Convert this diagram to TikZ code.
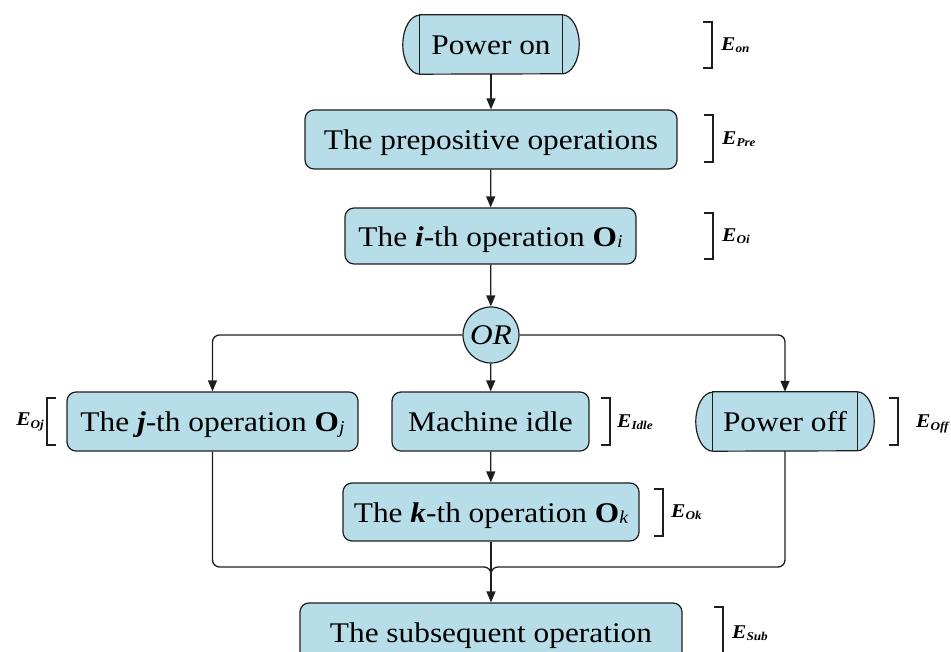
\documentclass[tikz,border=0pt]{standalone}
\usepackage{fontspec}
\setmainfont{Liberation Serif}[FakeStretch=1.1]
\usetikzlibrary{arrows.meta,backgrounds,calc}
\definecolor{boxfill}{RGB}{183,221,232}
\definecolor{edge}{RGB}{30,30,30}
\newcommand{\subsc}[1]{\raisebox{-1.5pt}{\fontsize{18}{18}\selectfont\itshape #1}}
\newcommand{\Elab}[1]{\textbf{\textit{E}}\raisebox{-2.5pt}{\fontsize{12}{12}\selectfont\bfseries\itshape #1}}
\tikzset{
  mainfont/.style={font=\fontsize{28.5}{30}\selectfont},
  box/.style={draw=edge, fill=boxfill, rounded corners=9pt, line width=1.2pt,
    inner sep=0pt, mainfont, text height=21pt, text depth=0pt},
  term/.style={inner sep=0pt, mainfont, text height=21pt, text depth=0pt},
  orbox/.style={circle, draw=edge, fill=boxfill, line width=1.2pt, inner sep=0pt,
    minimum size=56pt, mainfont, text height=20pt, text depth=0pt},
  conn/.style={draw=edge, line width=1.3pt},
  arr/.style={conn, -{Triangle[length=11pt,width=9pt]}},
  brk/.style={draw=edge, line width=1.3pt},
  elabel/.style={font=\fontsize{19.5}{20}\selectfont, inner sep=0pt, anchor=west},
}
\begin{document}
\begin{tikzpicture}[x=1pt,y=1pt]
\clip[use as bounding box] (0,0) rectangle (951,652);

% nodes
\node[term, minimum width=142pt, minimum height=59pt] (pon) at (491,607.5) {Power on};
\node[box, minimum width=372pt, minimum height=59pt] (pre) at (491,512.5) {The prepositive operations};
\node[box, minimum width=291pt, minimum height=56pt] (iop) at (490.5,416) {The \textbf{\textit{i}}-th operation \textbf{O}\subsc{i}};
\node[orbox] (or) at (491,317) {\itshape OR};
\node[box, minimum width=291pt, minimum height=59pt] (jop) at (212.5,230.5) {The \textbf{\textit{j}}-th operation \textbf{O}\subsc{j}};
\node[box, minimum width=197pt, minimum height=59pt] (idle) at (490.5,230.5) {Machine idle};
\node[term, minimum width=144pt, minimum height=59pt] (poff) at (785,230.5) {Power off};
\node[box, minimum width=296pt, minimum height=58pt] (kop) at (491,140) {The \textbf{\textit{k}}-th operation \textbf{O}\subsc{k}};
\node[box, minimum width=382pt, minimum height=58pt] (sub) at (491,20) {The subsequent operation};

% terminal shapes
\begin{scope}[on background layer]
\foreach \n in {pon,poff}{
  \draw[conn, line width=1.2pt, fill=boxfill] (\n.north west) -- (\n.north east)
    arc[start angle=90, end angle=-90, x radius=17pt, y radius=29.5pt]
    -- (\n.south west)
    arc[start angle=270, end angle=90, x radius=17pt, y radius=29.5pt] -- cycle;
  \draw[conn, line width=1.2pt] (\n.north west) -- (\n.south west) (\n.north east) -- (\n.south east);
}
\end{scope}

% connectors
\draw[arr] (pon) -- (pre);
\draw[arr] (pre) -- (iop);
\draw[arr] (iop) -- (or);
\draw[arr] (or) -- (idle);
\draw[arr, rounded corners=7pt] (or.west) -| (jop.north);
\draw[arr, rounded corners=7pt] (or.east) -| (poff.north);
\draw[arr] (idle) -- (kop);
\coordinate (mrg) at (491,85);
\coordinate (mrgb) at (491,70);
\draw[conn, rounded corners=7pt] (jop.south) |- (mrg) -- (mrgb);
\draw[conn, rounded corners=7pt] (poff.south) |- (mrg) -- (mrgb);
\draw[arr] (kop) -- (sub);

% energy brackets
\draw[brk] (703,630) -- (712,630) -- (712,584) -- (703,584);
\node[elabel] (eon) at (721,607) {\Elab{on}};
\draw[brk] (704,537) -- (713,537) -- (713,490) -- (704,490);
\node[elabel] (epre) at (722,513) {\Elab{Pre}};
\draw[brk] (704,439) -- (713,439) -- (713,393) -- (704,393);
\node[elabel] (eoi) at (722,416) {\Elab{Oi}};
\draw[brk] (56,254) -- (47,254) -- (47,207) -- (56,207);
\node[elabel, anchor=east] (eoj) at (44,230) {\Elab{Oj}};
\draw[brk] (601,254) -- (610,254) -- (610,207) -- (601,207);
\node[elabel] (eidle) at (617,230) {\Elab{Idle}};
\draw[brk] (889,254) -- (898,254) -- (898,207) -- (889,207);
\node[elabel] (eoff) at (916,228) {\Elab{Off}};
\draw[brk] (654,163) -- (663,163) -- (663,116) -- (654,116);
\node[elabel] (eok) at (671,140) {\Elab{Ok}};
\draw[brk] (714,45) -- (723,45) -- (723,-10);
\node[elabel] (esub) at (732,19) {\Elab{Sub}};
\end{tikzpicture}
\end{document}
